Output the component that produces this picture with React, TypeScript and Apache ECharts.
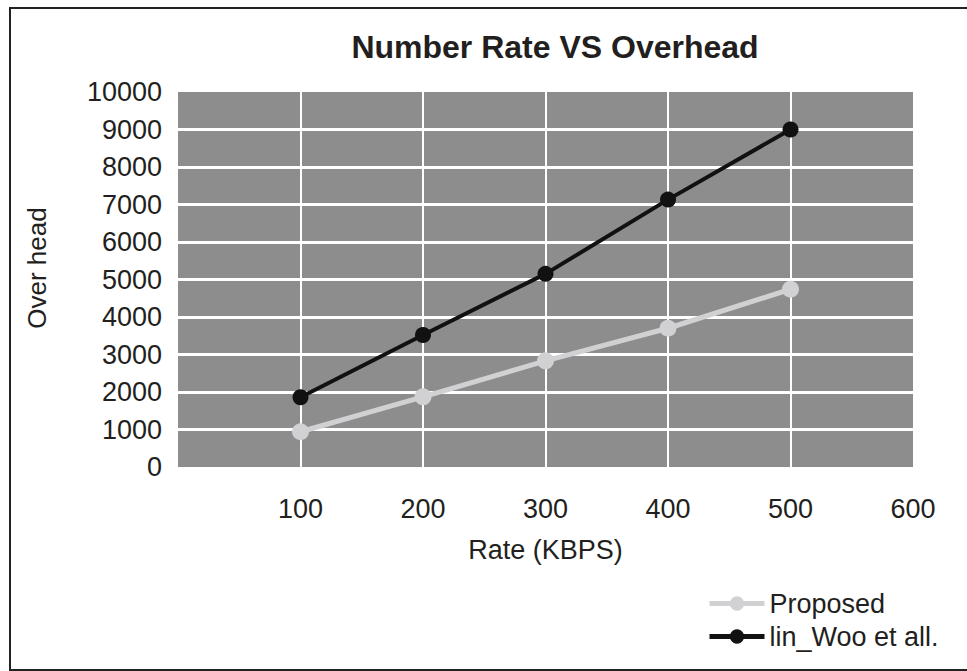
import React, { useEffect, useRef } from "react";
import * as echarts from "echarts";

const rates = [100, 200, 300, 400, 500];
const proposed = [940, 1870, 2830, 3700, 4740];
const linWoo = [1860, 3520, 5150, 7130, 9000];
const seriesNames = ["Proposed", "lin_Woo et all."];

const FONT = "Liberation Sans, Arial, sans-serif";
const TEXT = "#231f20";
const FS = 27;

export default function App() {
  const ref = useRef<HTMLDivElement>(null);
  useEffect(() => {
    if (!ref.current) return;
    const chart = echarts.init(ref.current, undefined, { renderer: "svg" });
    const xLines = ["rgba(0,0,0,0)", "#fff", "#fff", "#fff", "#fff", "#fff", "rgba(0,0,0,0)"];
    const yLines = ["rgba(0,0,0,0)"].concat(Array(9).fill("#fff"), ["rgba(0,0,0,0)"]);
    chart.setOption({
      animation: false,
      backgroundColor: "#ffffff",
      textStyle: { fontFamily: FONT },
      title: {
        text: "Number Rate VS Overhead",
        left: 550,
        textAlign: "center",
        top: 26,
        textStyle: { fontFamily: FONT, fontSize: 32, fontWeight: "bold", color: TEXT },
      },
      graphic: [
        {
          type: "rect",
          shape: { x: 10, y: 8, width: 965, height: 662 },
          style: { fill: "none", stroke: "#222", lineWidth: 2 },
          silent: true,
        },
        {
          type: "text",
          x: 37,
          y: 268,
          rotation: Math.PI / 2,
          style: {
            text: "Over head",
            fontFamily: FONT,
            fontSize: 26,
            fill: TEXT,
            align: "center",
            verticalAlign: "middle",
          },
        },
      ],
      grid: {
        left: 178,
        top: 92,
        right: 54,
        bottom: 204,
        show: true,
        backgroundColor: "#8d8d8d",
        borderWidth: 0,
      },
      legend: {
        orient: "vertical",
        left: 702,
        top: 585,
        itemWidth: 55,
        itemHeight: 18,
        itemGap: 6,
        textStyle: { fontFamily: FONT, fontSize: FS, color: TEXT, lineHeight: 27 },
        data: [
          { name: seriesNames[0], lineStyle: { width: 5 } },
          { name: seriesNames[1], lineStyle: { width: 5 } },
        ],
      },
      xAxis: {
        type: "value",
        min: 0,
        max: 600,
        interval: 100,
        name: "Rate (KBPS)",
        nameLocation: "middle",
        nameGap: 69,
        nameTextStyle: { fontFamily: FONT, fontSize: FS, color: TEXT },
        axisLine: { show: false },
        axisTick: { show: false },
        axisLabel: {
          showMinLabel: false,
          margin: 28,
          fontFamily: FONT,
          fontSize: FS,
          color: TEXT,
        },
        splitLine: { show: true, lineStyle: { color: xLines, width: 2 } },
      },
      yAxis: {
        type: "value",
        min: 0,
        max: 10000,
        interval: 1000,
        axisLine: { show: false },
        axisTick: { show: false },
        axisLabel: {
          margin: 16,
          fontFamily: FONT,
          fontSize: FS,
          color: TEXT,
          formatter: (v: number) => String(v),
        },
        splitLine: { show: true, lineStyle: { color: yLines, width: 3 } },
      },
      series: [
        {
          name: seriesNames[0],
          type: "line",
          data: rates.map((r, i) => [r, proposed[i]]),
          symbol: "circle",
          symbolSize: 17,
          itemStyle: { color: "#d1d1d3" },
          lineStyle: { color: "#d1d1d3", width: 5 },
        },
        {
          name: seriesNames[1],
          type: "line",
          data: rates.map((r, i) => [r, linWoo[i]]),
          symbol: "circle",
          symbolSize: 16,
          itemStyle: { color: "#111111" },
          lineStyle: { color: "#111111", width: 4 },
        },
      ],
    });
    return () => chart.dispose();
  }, []);
  return (
    <div
      ref={ref}
      style={{ position: "fixed", left: 0, top: 0, width: 967, height: 671 }}
    />
  );
}
